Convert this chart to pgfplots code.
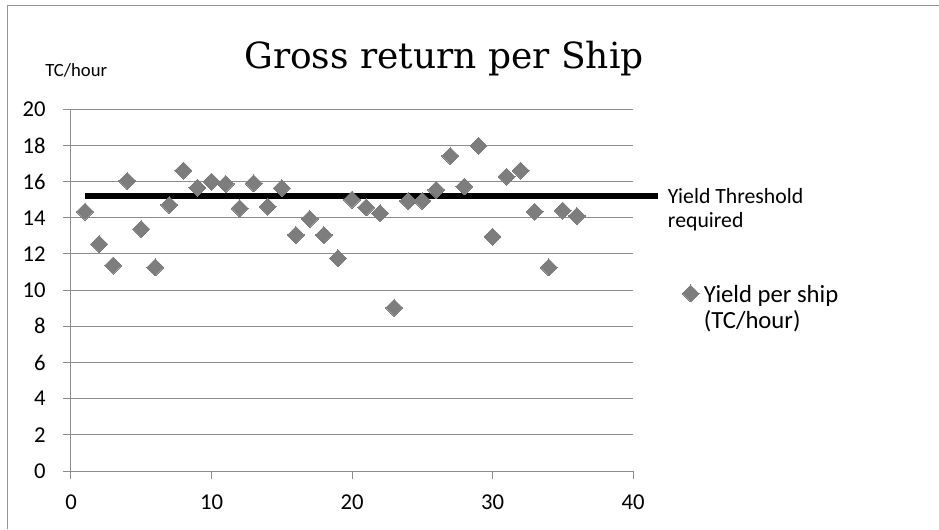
\documentclass[border=0pt]{standalone}
\usepackage{pgfplots}
\pgfplotsset{compat=1.18}
\usepackage{pgfplotstable}
\usepackage{fontspec}
\setmainfont{Carlito}
\newfontfamily\titlefont{DejaVu Serif}

\definecolor{gridgray}{RGB}{140,140,140}
\definecolor{markgray}{RGB}{125,125,125}
\definecolor{framegray}{RGB}{150,150,150}

% yield per ship, TC/hour
\pgfplotstableread{
ship yield
1  14.34
2  12.55
3  11.36
4  16.04
5  13.37
6  11.26
7  14.71
8  16.61
9  15.67
10 16.00
11 15.87
12 14.53
13 15.91
14 14.62
15 15.64
16 13.05
17 13.94
18 13.05
19 11.76
20 15.01
21 14.57
22 14.25
23 9.03
24 14.93
25 14.93
26 15.54
27 17.42
28 15.73
29 17.98
30 12.96
31 16.28
32 16.61
33 14.34
34 11.26
35 14.40
36 14.10
}\yieldtable

% required yield threshold
\pgfplotstableread{
ship yield
1    15.2
41.8 15.2
}\thresholdtable

\begin{document}
\begin{tikzpicture}[x=0.75pt,y=0.75pt]
\path[use as bounding box] (0,0) rectangle (939,529);
\draw[framegray, line width=0.75pt] (7,0) -- (7,523) -- (939,523);
\begin{axis}[
  at={(53.25pt,43.5pt)}, anchor=south west,
  scale only axis, width=421.5pt, height=271.3pt,
  xmin=0, xmax=40, ymin=0, ymax=20,
  xtick={0,10,...,40}, ytick={0,2,...,20},
  axis lines=left, axis line style={-, gridgray, line width=0.75pt},
  tick align=outside, major tick length=6pt,
  tick style={gridgray, line width=0.75pt},
  ymajorgrids, grid style={gridgray, line width=0.75pt},
  /pgf/number format/assume math mode=true,
  xticklabel={\fontsize{17}{20}\selectfont\pgfmathprintnumber{\tick}},
  yticklabel={\fontsize{17}{20}\selectfont\pgfmathprintnumber{\tick}},
  yticklabel style={xshift=-9.5pt},
  xticklabel style={yshift=-8pt},
  clip=false,
  legend style={draw=none, fill=none, at={(1.080,0.451)}, anchor=west,
    font=\fontsize{18.5}{19.5}\selectfont, cells={align=left},
    /tikz/every odd column/.append style={column sep=1.5pt}},
  legend cell align=left,
  legend image code/.code={\draw[#1] plot coordinates {(0pt,10.8pt)};},
]
\addplot[black, line width=4pt, forget plot] table[x=ship, y=yield] {\thresholdtable};
\addplot[only marks, mark=square*, mark size=4.5pt,
  mark options={rotate=45, fill=markgray, draw=markgray, line width=0pt}]
  table[x=ship, y=yield] {\yieldtable};
\addlegendentry{Yield per ship\\(TC/hour)}
\end{axis}
\node[font=\titlefont\fontsize{27}{30}\selectfont, anchor=base] at (444,460) {Gross return per Ship};
\node[anchor=base west, inner sep=0pt, font=\fontsize{14}{16}\selectfont] at (45,452) {TC/hour};
\node[anchor=base west, inner sep=0pt, align=left, font=\fontsize{16.3}{18}\selectfont]
  at (667.7,301.7) {Yield Threshold\\required};
\end{tikzpicture}
\end{document}
